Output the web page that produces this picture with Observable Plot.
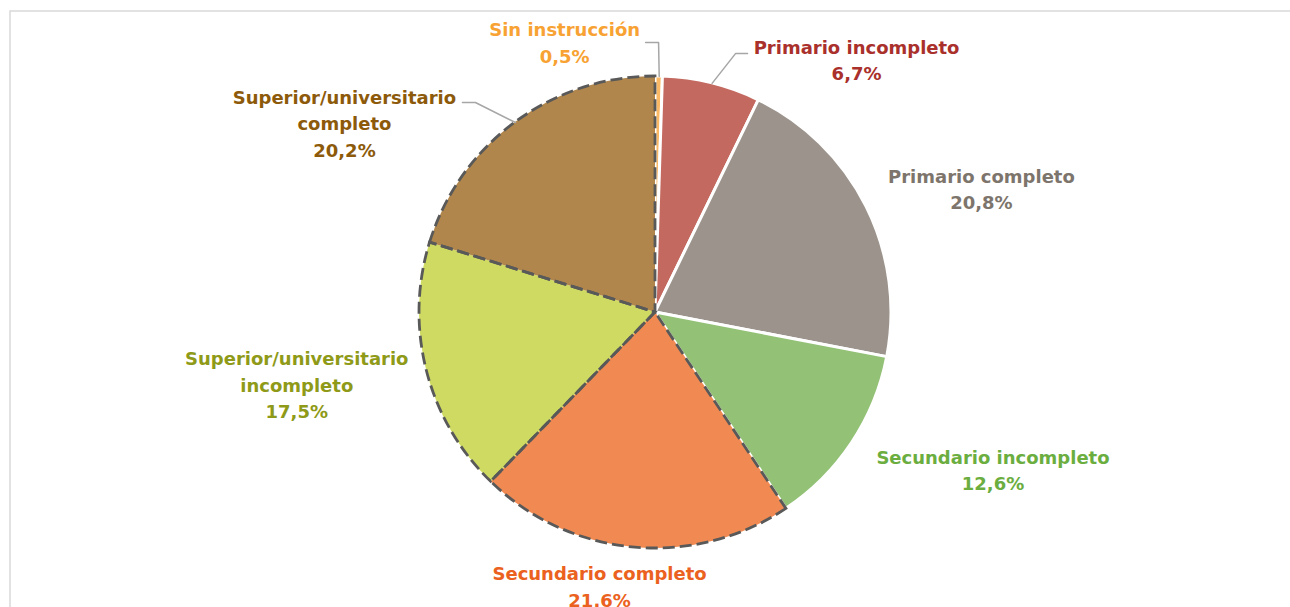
<!DOCTYPE html>
<html>
<head>
<meta charset="utf-8">
<script src="https://cdn.jsdelivr.net/npm/d3@7"></script>
<script src="https://cdn.jsdelivr.net/npm/@observablehq/plot@0.6"></script>
<style>
  html, body { margin: 0; padding: 0; background: #fff; overflow: hidden; }
  #chart { width: 1290px; height: 607px; }
</style>
</head>
<body>
<div id="chart"></div>
<script>
// ---- data ----
const categories = [
  "Sin instrucción",
  "Primario incompleto",
  "Primario completo",
  "Secundario incompleto",
  "Secundario completo",
  "Superior/universitario\nincompleto",
  "Superior/universitario\ncompleto"
];
const values = [0.5, 6.7, 20.8, 12.6, 21.6, 17.5, 20.2];
const valueLabels = ["0,5%", "6,7%", "20,8%", "12,6%", "21.6%", "17,5%", "20,2%"];

// ---- styles ----
const sliceColors = ["#FAB864", "#C3695F", "#9C948C", "#93C176", "#F08A52", "#CEDA62", "#B0864C"];
const labelColors = ["#F7A232", "#A9302B", "#7D756C", "#6BAE3F", "#EB6120", "#8E9A18", "#8C5A0A"];
const dashedOutline = [false, false, false, false, true, true, true];

// ---- layout (radius units, relative to pie centre) ----
const labelPos = [
  [-0.385, 1.150], [0.852, 1.075], [1.381, 0.530], [1.430, -0.660],
  [-0.237, -1.155], [-1.520, -0.300], [-1.318, 0.808]
];
const leaderPts = { // elbow & end points for labels having leader lines
  0: [[0.013, 1.144], [-0.042, 1.144]],
  1: [[0.339, 1.097], [0.390, 1.097]],
  6: [[-0.763, 0.890], [-0.818, 0.890]]
};

const W = 1290, H = 607, CX = 655, CY = 312, R = 236;

const pieArcs = d3.pie().sort(null).value(d => d)(values);

const slices = values.map((v, i) => ({
  i, category: categories[i], value: v,
  start: pieArcs[i].startAngle, end: pieArcs[i].endAngle
}));

const labels = slices.map(s => ({
  text: s.category + "\n" + valueLabels[s.i],
  x: labelPos[s.i][0], y: labelPos[s.i][1], color: labelColors[s.i]
}));

const leaders = [];
for (const k of Object.keys(leaderPts)) {
  const s = slices[+k];
  const mid = (s.start + s.end) / 2;
  leaders.push({k, x: Math.sin(mid), y: Math.cos(mid)});
  for (const p of leaderPts[k]) leaders.push({k, x: p[0], y: p[1]});
}

function pieMark(data) {
  return (index, scales) => {
    const cx = scales.x(0), cy = scales.y(0);
    const r = scales.x(1) - scales.x(0);
    const arc = d3.arc().innerRadius(0).outerRadius(r)
      .startAngle(d => d.start).endAngle(d => d.end);
    const g = d3.create("svg:g").attr("transform", `translate(${cx},${cy})`);
    const plain = data.filter(d => !dashedOutline[d.i]);
    const dashed = data.filter(d => dashedOutline[d.i]);
    g.selectAll("path.p").data(plain).join("path")
      .attr("d", arc)
      .attr("fill", d => sliceColors[d.i])
      .attr("stroke", "#fff").attr("stroke-width", 3).attr("stroke-linejoin", "round");
    g.selectAll("path.q").data(dashed).join("path")
      .attr("d", arc)
      .attr("fill", d => sliceColors[d.i])
      .attr("stroke", "none");
    g.selectAll("path.r").data(dashed).join("path")
      .attr("d", arc)
      .attr("fill", "none")
      .attr("stroke", "#595959").attr("stroke-width", 2.8)
      .attr("stroke-dasharray", "12,5");
    return g.node();
  };
}

const chart = Plot.plot({
  width: W, height: H, margin: 0,
  x: {domain: [-CX / R, (W - CX) / R], range: [0, W], axis: null},
  y: {domain: [-(H - CY) / R, CY / R], range: [H, 0], axis: null},
  color: {type: "identity"},
  style: {fontFamily: "'DejaVu Sans', sans-serif", background: "#fff"},
  marks: [
    Plot.frame({stroke: "#D9D9D9", strokeWidth: 1.5, insetLeft: 9.5, insetTop: 10.5, insetRight: -4, insetBottom: -4}),
    pieMark(slices),
    Plot.line(leaders, {x: "x", y: "y", z: "k", stroke: "#A6A6A6", strokeWidth: 1.5}),
    Plot.text(labels, {
      x: "x", y: "y", text: "text", fill: "color",
      fontSize: 18, fontWeight: "bold", lineHeight: 1.47, textAnchor: "middle"
    })
  ]
});
document.getElementById("chart").appendChild(chart);
</script>
</body>
</html>
